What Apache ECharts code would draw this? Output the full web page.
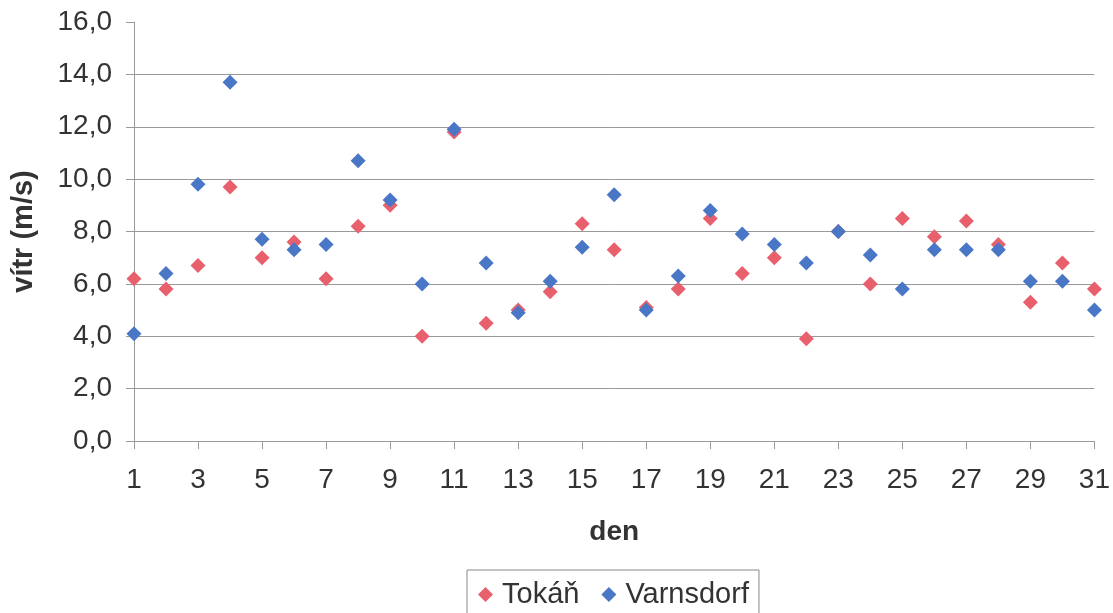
<!DOCTYPE html>
<html>
<head>
<meta charset="utf-8">
<script src="https://cdn.jsdelivr.net/npm/echarts@6/dist/echarts.min.js"></script>
<style>
  html, body { margin: 0; padding: 0; background: #fff; }
  #chart { width: 1113px; height: 613px; }
</style>
</head>
<body>
<div id="chart"></div>
<script>
// dny v mesici
var days = [];
for (var d = 1; d <= 31; d++) days.push(String(d));

// prumerna rychlost vetru (m/s)
var tokan = [6.2, 5.8, 6.7, 9.7, 7.0, 7.6, 6.2, 8.2, 9.0, 4.0, 11.8, 4.5, 5.0, 5.7, 8.3, 7.3,
             5.1, 5.8, 8.5, 6.4, 7.0, 3.9, 8.0, 6.0, 8.5, 7.8, 8.4, 7.5, 5.3, 6.8, 5.8];
var varnsdorf = [4.1, 6.4, 9.8, 13.7, 7.7, 7.3, 7.5, 10.7, 9.2, 6.0, 11.9, 6.8, 4.9, 6.1, 7.4, 9.4,
                 5.0, 6.3, 8.8, 7.9, 7.5, 6.8, 8.0, 7.1, 5.8, 7.3, 7.3, 7.3, 6.1, 6.1, 5.0];

var font = 'Liberation Sans, Arial, sans-serif';
var chart = echarts.init(document.getElementById('chart'));

var option = {
    backgroundColor: '#fff',
    animation: false,
    grid: { left: 134, right: 17, top: 22, bottom: 172 },
    legend: {
        top: 570,
        left: 467,
        data: ['Tokáň', 'Varnsdorf'],
        icon: 'diamond',
        itemWidth: 15,
        itemHeight: 15,
        itemGap: 22,
        borderColor: '#888',
        borderWidth: 1,
        borderRadius: 0,
        padding: [10, 10, 12, 11],
        textStyle: { fontFamily: font, fontSize: 29, color: '#333', padding: [0, 0, 0, 4] }
    },
    xAxis: {
        type: 'category',
        data: days,
        boundaryGap: false,
        name: 'den',
        nameLocation: 'middle',
        nameGap: 77,
        nameTextStyle: { fontFamily: font, fontSize: 28, fontWeight: 'bold', color: '#333' },
        axisLine: { lineStyle: { color: '#999' } },
        axisTick: { interval: 1, length: 8, lineStyle: { color: '#999' } },
        axisLabel: { interval: 1, margin: 25, fontFamily: font, fontSize: 28, color: '#333' },
        splitLine: { show: false }
    },
    yAxis: {
        type: 'value',
        min: 0,
        max: 16,
        interval: 2,
        name: 'vítr (m/s)',
        nameLocation: 'middle',
        nameGap: 96,
        nameTextStyle: { fontFamily: font, fontSize: 29, fontWeight: 'bold', color: '#333' },
        axisLine: { show: true, lineStyle: { color: '#999' } },
        axisTick: { show: true, length: 8, lineStyle: { color: '#999' } },
        axisLabel: {
            margin: 22, fontFamily: font, fontSize: 28, color: '#333',
            formatter: function (v) { return v.toFixed(1).replace('.', ','); }
        },
        splitLine: {
            show: true,
            lineStyle: {
                color: ['#999', '#999', '#999', '#999', '#999', '#999', '#999', '#999', 'rgba(0,0,0,0)'],
                width: 1
            }
        }
    },
    series: [
        {
            name: 'Tokáň',
            type: 'scatter',
            symbol: 'diamond',
            symbolSize: 15,
            itemStyle: { color: '#e8606c', opacity: 1 },
            data: tokan
        },
        {
            name: 'Varnsdorf',
            type: 'scatter',
            symbol: 'diamond',
            symbolSize: 15,
            itemStyle: { color: '#4a76c6', opacity: 1 },
            data: varnsdorf
        }
    ]
};
chart.setOption(option);
</script>
</body>
</html>
